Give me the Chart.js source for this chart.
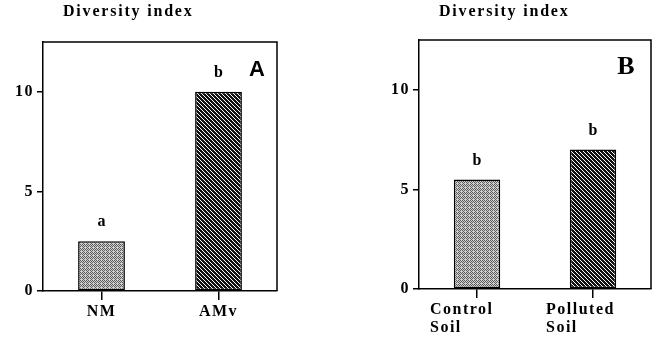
<!DOCTYPE html>
<html lang="en">
<head>
<meta charset="UTF-8">
<script src="https://cdn.jsdelivr.net/npm/chart.js@4.4.1/dist/chart.umd.min.js"></script>
<title>Diversity index</title>
<style>
  html, body { margin: 0; padding: 0; background: #fff; }
  #wrap { display: flex; width: 656px; height: 342px; }
  canvas { display: block; }
</style>
</head>
<body>
<div id="wrap">
  <canvas id="chartA" width="328" height="342"></canvas>
  <canvas id="chartB" width="328" height="342"></canvas>
</div>
<script>
// data
const axisTitle = 'Diversity index';
const yTicks = [0, 5, 10];
const yMax = 12.5;

const labelsA = ['NM', 'AMv'];
const valuesA = [2.5, 10];
const lettersA = ['a', 'b'];

const labelsB = [['Control', 'Soil'], ['Polluted', 'Soil']];
const valuesB = [5.5, 7];
const lettersB = ['b', 'b'];

const serif = 'Liberation Serif';

// fill textures
const bayer = [[0, 8, 2, 10], [12, 4, 14, 6], [3, 11, 1, 9], [15, 7, 13, 5]];

function makeStipple(ctx) {
  const c = document.createElement('canvas');
  c.width = 4; c.height = 4;
  const g = c.getContext('2d');
  for (let y = 0; y < 4; y++) {
    for (let x = 0; x < 4; x++) {
      g.fillStyle = bayer[y][x] < 7 ? '#5c5c5c' : '#cfcfcf';
      g.fillRect(x, y, 1, 1);
    }
  }
  return ctx.createPattern(c, 'repeat');
}

function makeHatch(ctx) {
  const n = 4;
  const c = document.createElement('canvas');
  c.width = n; c.height = n;
  const g = c.getContext('2d');
  g.fillStyle = '#111';
  g.fillRect(0, 0, n, n);
  g.fillStyle = '#fff';
  for (let y = 0; y < n; y++) g.fillRect(y % n, y, 1, 1);
  return ctx.createPattern(c, 'repeat');
}

// box, letters above bars, panel tag, title
const panelDecor = {
  id: 'panelDecor',
  beforeDraw(chart) {
    chart.ctx.letterSpacing = '1.5px';
  },
  afterDatasetsDraw(chart, args, opts) {
    const { ctx, chartArea: a } = chart;
    ctx.save();
    ctx.strokeStyle = '#000';
    ctx.lineWidth = 1.5;
    ctx.beginPath();
    ctx.moveTo(a.left, a.top);
    ctx.lineTo(a.right, a.top);
    ctx.lineTo(a.right, a.bottom);
    ctx.stroke();

    ctx.fillStyle = '#000';
    ctx.textAlign = 'center';
    ctx.textBaseline = 'middle';
    ctx.letterSpacing = '0px';
    ctx.font = 'bold 16px "' + serif + '"';
    chart.getDatasetMeta(0).data.forEach((bar, i) => {
      ctx.fillText(opts.letters[i], bar.x, bar.y - 19);
    });

    ctx.font = opts.tagFont;
    ctx.fillText(opts.tag, a.right + opts.tagDx, a.top + opts.tagDy);

    ctx.textAlign = 'left';
    ctx.font = 'bold 16px "' + serif + '"';
    ctx.letterSpacing = '1.8px';
    ctx.fillText(axisTitle, opts.titleX, 12);
    ctx.restore();
  }
};

function buildPanel(id, labels, values, letters, geom) {
  const ctx = document.getElementById(id).getContext('2d');
  return new Chart(ctx, {
    type: 'bar',
    data: {
      labels: labels,
      datasets: [{
        data: values,
        backgroundColor: [makeStipple(ctx), makeHatch(ctx)],
        borderColor: '#000',
        borderWidth: 1.5,
        borderSkipped: false,
        categoryPercentage: 1,
        barPercentage: 0.4
      }]
    },
    options: {
      responsive: false,
      animation: false,
      layout: { padding: { top: geom.padTop, right: geom.padRight, left: 0, bottom: 0 } },
      plugins: {
        legend: { display: false },
        tooltip: { enabled: false },
        panelDecor: {
          letters: letters,
          tag: geom.tag,
          tagFont: geom.tagFont,
          tagDx: geom.tagDx,
          tagDy: geom.tagDy,
          titleX: geom.titleX
        }
      },
      scales: {
        x: {
          grid: { drawOnChartArea: false, offset: false, tickLength: 9, color: '#000', lineWidth: 1.5 },
          border: { color: '#000', width: 1.5 },
          ticks: {
            color: '#000',
            font: { family: serif, size: 16, weight: 'bold', lineHeight: 1.1 },
            padding: 3, maxRotation: 0, autoSkip: false,
            align: geom.xAlign, labelOffset: geom.xLabelOffset
          },
          afterFit(s) { s.height = geom.xHeight; }
        },
        y: {
          min: 0,
          max: yMax,
          afterBuildTicks(s) { s.ticks = yTicks.map(v => ({ value: v })); },
          grid: { drawOnChartArea: false, tickLength: 6, color: '#000', lineWidth: 1.5 },
          border: { color: '#000', width: 1.5 },
          ticks: { color: '#000', font: { family: serif, size: 16, weight: 'bold' }, padding: 3 },
          afterFit(s) { s.width = geom.yWidth; }
        }
      }
    },
    plugins: [panelDecor]
  });
}

buildPanel('chartA', labelsA, valuesA, lettersA, {
  padTop: 42, padRight: 51, yWidth: 43, xHeight: 51,
  xAlign: 'center', xLabelOffset: 0,
  tag: 'A', tagFont: 'bold 22px "Liberation Sans"', tagDx: -20, tagDy: 28,
  titleX: 63
});

buildPanel('chartB', labelsB, valuesB, lettersB, {
  padTop: 40, padRight: 5, yWidth: 91, xHeight: 53,
  xAlign: 'start', xLabelOffset: -47,
  tag: 'B', tagFont: 'bold 26px "' + serif + '"', tagDx: -25, tagDy: 27,
  titleX: 111
});
</script>
</body>
</html>
